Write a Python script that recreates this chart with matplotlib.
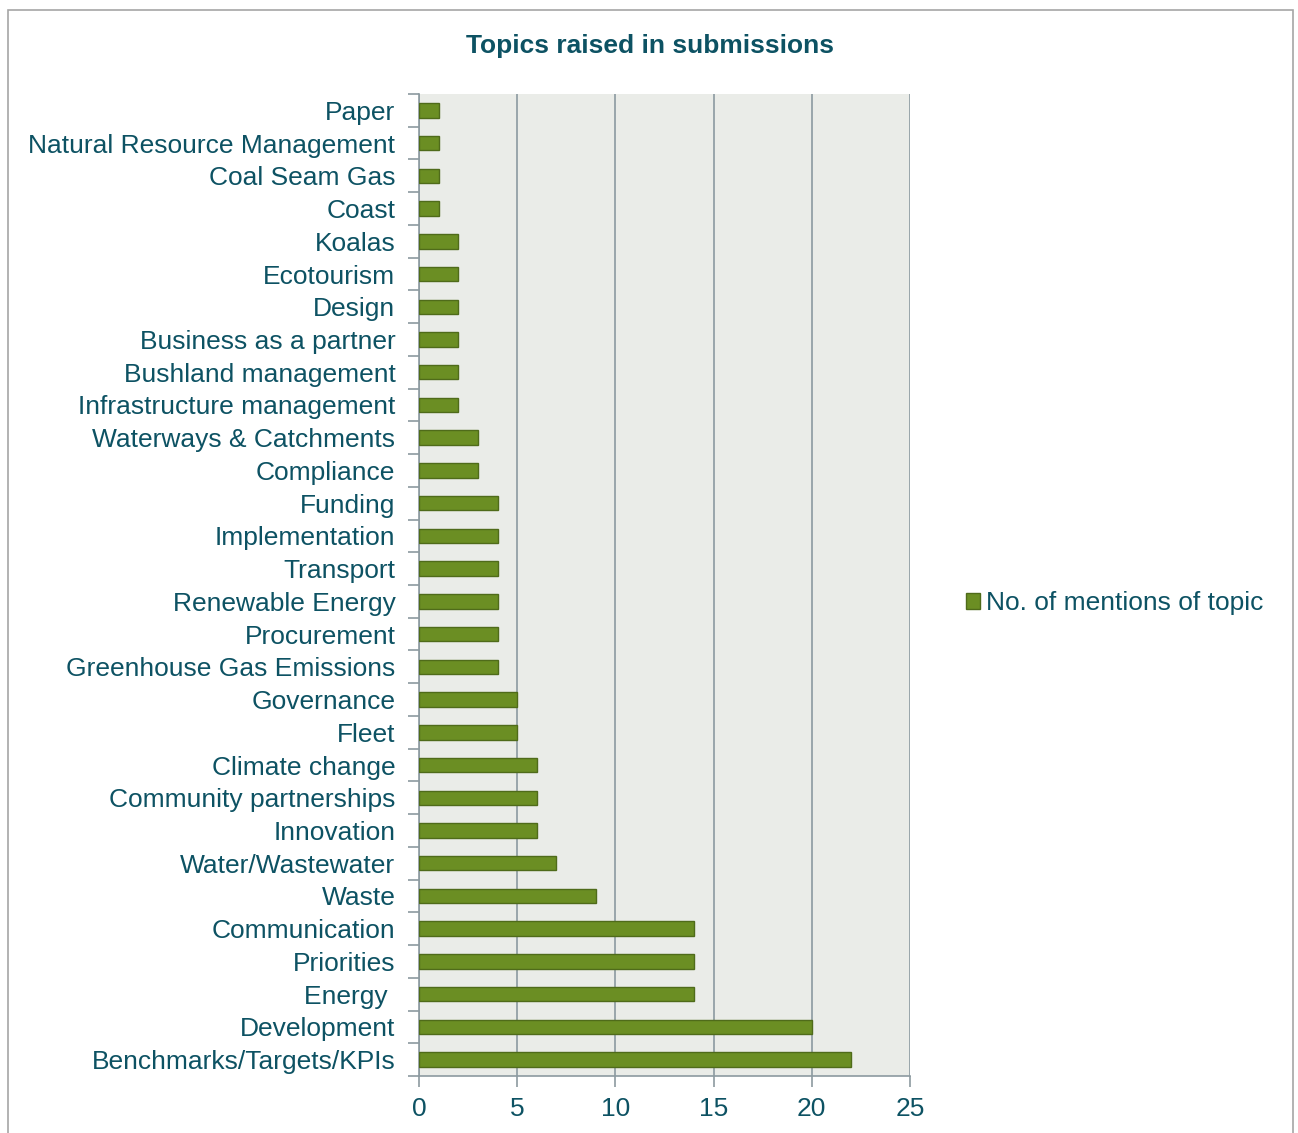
import numpy as np
import matplotlib.pyplot as plt
from matplotlib.patches import Rectangle
from matplotlib.ticker import FixedLocator

# topics listed bottom to top, as drawn
topics = ['Benchmarks/Targets/KPIs', 'Development', 'Energy ', 'Priorities',
          'Communication', 'Waste', 'Water/Wastewater', 'Innovation',
          'Community partnerships', 'Climate change', 'Fleet', 'Governance',
          'Greenhouse Gas Emissions', 'Procurement', 'Renewable Energy',
          'Transport', 'Implementation', 'Funding', 'Compliance',
          'Waterways & Catchments', 'Infrastructure management',
          'Bushland management', 'Business as a partner', 'Design',
          'Ecotourism', 'Koalas', 'Coast', 'Coal Seam Gas',
          'Natural Resource Management', 'Paper']
mentions = [22, 20, 14, 14, 14, 9, 7, 6, 6, 6, 5, 5, 4, 4, 4, 4, 4, 4, 3, 3,
            2, 2, 2, 2, 2, 2, 1, 1, 1, 1]
xticks = [0, 5, 10, 15, 20, 25]

txt = '#0D5263'
axcol = '#8C9AA0'
plt.rcParams['font.family'] = ['Liberation Sans', 'DejaVu Sans']

fig = plt.figure(figsize=(12.98, 11.33), dpi=100)
fig.patches.append(Rectangle((8/1298, -0.05), (1293-8)/1298, 1.05 - 10/1133,
                             transform=fig.transFigure, fill=False,
                             edgecolor='#A6A6A6', linewidth=1.2))

ax = fig.add_axes([419/1298, 1 - 1076/1133, (910-419)/1298, (1076-94)/1133])
ax.set_facecolor('#EAECE8')
y = np.arange(len(topics))
ax.barh(y, mentions, height=0.44, color='#6B8E23', edgecolor='#4F6B1A',
        linewidth=1, label='No. of mentions of topic', zorder=3)

ax.set_xlim(0, 25)
ax.set_ylim(-0.5, len(topics) - 0.5)
ax.set_xticks(xticks)
ax.set_yticks(y)
ax.set_yticklabels(topics)
ax.yaxis.set_minor_locator(FixedLocator(np.arange(-0.5, len(topics), 1)))
ax.tick_params(axis='y', which='major', length=0, pad=17, labelsize=19,
               labelcolor=txt)
ax.tick_params(axis='y', which='minor', length=8, width=1.2, color=axcol,
               direction='out')
ax.tick_params(axis='x', length=8, width=1.2, color=axcol, labelsize=19,
               labelcolor=txt, pad=7)
ax.grid(axis='x', color=axcol, linewidth=1.2, zorder=1)
for s in ['top', 'right']:
    ax.spines[s].set_visible(False)
for s in ['left', 'bottom']:
    ax.spines[s].set_color(axcol)
    ax.spines[s].set_linewidth(1.2)

fig.text(650/1298, 1 - 46/1133, 'Topics raised in submissions', ha='center',
         va='center', fontsize=19, fontweight='bold', color=txt)

fig.legend(loc='center left', bbox_to_anchor=(942/1298, 1 - 603/1133),
           frameon=False, fontsize=19, labelcolor=txt, handlelength=0.55,
           handleheight=0.55, handletextpad=0.2)

fig.savefig('out.png', dpi=100)
